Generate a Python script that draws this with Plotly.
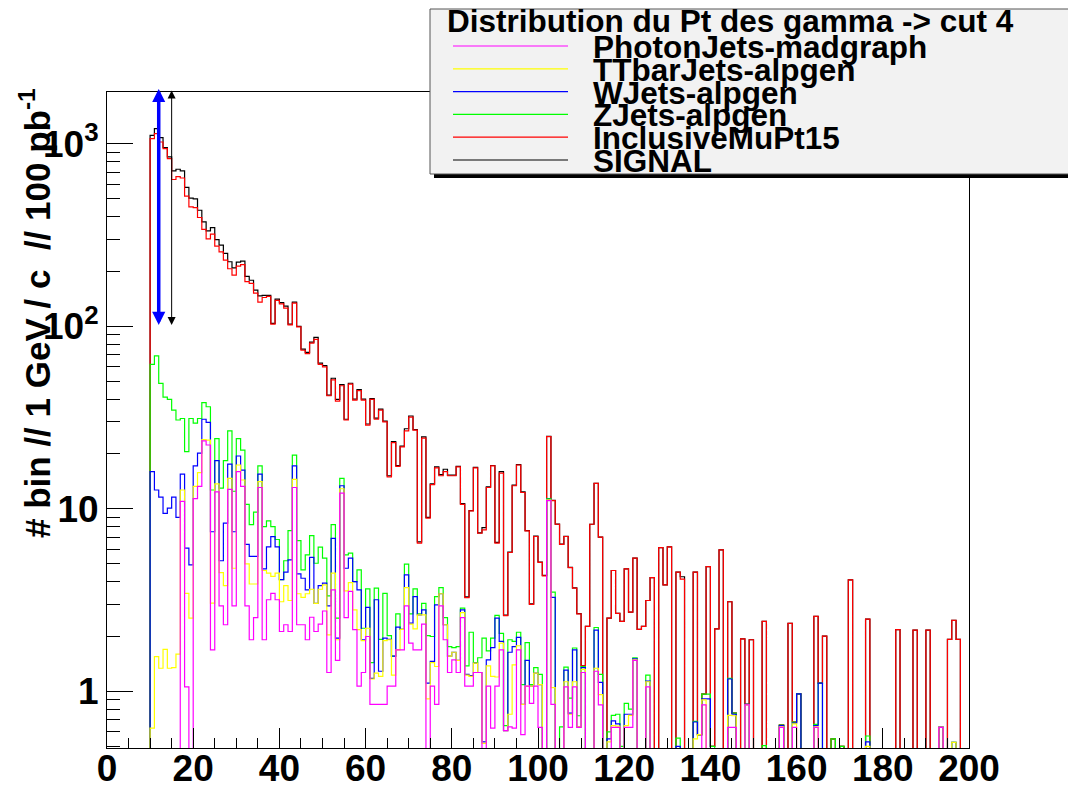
import numpy as np
import plotly.graph_objects as go

# Pt of the photon candidate, 1 GeV bins from 10 to 200 GeV/c.
bin_edges = list(range(10, 201))

# Stacked histogram levels (each sample is drawn on top of the ones below it),
# events per bin normalised to 100 pb^-1. One row = 10 bins.
signal = [
    1114, 1213, 1082, 955, 848, 711, 726, 711, 577, 504,
    500, 433, 374, 334, 348, 299, 279, 251, 226, 209,
    225, 228, 188, 179, 158, 147, 148, 148, 104, 141,
    135, 129, 103, 136, 100, 75, 72, 82, 87, 63,
    61, 42, 52, 39.8, 48, 31, 48.8, 40, 45, 40,
    29.2, 40.2, 31.4, 35.2, 30.3, 15.2, 23.4, 17.3, 22.1, 27.5,
    32.3, 27.2, 6.6, 24.8, 9.0, 13.7, 17.0, 15.4, 16.5, 15.3,
    15.3, 17.1, 10.7, 3.3, 9.8, 16.9, 7.4, 7.9, 13.2, 17.3,
    6.55, 16.0, 2.62, 5.8, 13.5, 17.5, 12.4, 7.6, 3.02, 7.1,
    5.12, 4.32, 25.0, 11.15, 8.26, 6.42, 7.08, 4.78, 3.69, 2.67,
    1.38, 2.27, 8.24, 13.8, 7.0, 0, 2.52, 4.6, 2.68, 2.42,
    4.7, 2.72, 5.37, 2.19, 2.27, 3.15, 4.2, 0, 6.14, 3.84,
    6.2, 0, 4.5, 4.25, 0, 0, 4.5, 0.58, 0.967, 4.83,
    0.5, 2.2, 5.97, 0, 3.1, 0.76, 0, 1.94, 0.85, 1.92,
    0, 0, 2.42, 0, 0, 0, 0.655, 0, 2.36, 0.68,
    0.97, 0, 0, 0, 2.58, 1.11, 2.01, 0, 0.55, 0,
    0.5, 0, 4.09, 0, 0, 0, 2.49, 0, 0, 0,
    0, 0, 0, 2.18, 0, 0, 0, 2.17, 0, 0,
    2.17, 0, 0, 0.635, 0, 1.93, 2.45, 1.93, 0, 0,
]

inclusive_mu = [
    1069, 1138, 1024, 943, 831, 638, 662, 650, 517, 452,
    448, 395, 340, 302, 320, 275, 256, 231, 207, 191,
    214, 218, 176, 172, 152, 136, 144, 146, 103, 139,
    133, 126, 102, 134, 99.5, 74, 71, 81, 85, 62,
    60, 41.7, 51, 39, 47.3, 30.7, 48.3, 39.5, 44.5, 39.5,
    28.8, 39.8, 31, 34.8, 30, 15.0, 23.1, 17.1, 21.9, 26.8,
    31.8, 27, 6.5, 24.4, 8.9, 13.6, 16.8, 15.2, 16.0, 15.2,
    15.2, 17.0, 10.6, 3.27, 9.75, 16.8, 7.36, 7.67, 13.1, 17.2,
    6.5, 15.7, 2.6, 5.77, 13.4, 17.4, 12.3, 7.58, 3.0, 7.06,
    5.1, 4.3, 24.9, 11.1, 8.24, 6.4, 7.06, 4.77, 3.68, 2.66,
    1.38, 2.27, 8.24, 13.8, 7.0, 0, 2.52, 4.6, 2.68, 2.42,
    4.7, 2.72, 5.37, 2.19, 2.27, 3.15, 4.2, 0, 6.14, 3.84,
    6.2, 0, 4.5, 4.12, 0, 0, 4.5, 0.58, 0.967, 4.83,
    0.5, 2.2, 5.97, 0, 3.1, 0.76, 0, 1.94, 0.85, 1.92,
    0, 0, 2.42, 0, 0, 0, 0.655, 0, 2.36, 0.68,
    0.97, 0, 0, 0, 2.58, 1.11, 2.01, 0, 0.55, 0,
    0.5, 0, 4.09, 0, 0, 0, 2.49, 0, 0, 0,
    0, 0, 0, 2.18, 0, 0, 0, 2.17, 0, 0,
    2.17, 0, 0, 0.635, 0, 1.93, 2.45, 1.93, 0, 0,
]

zjets = [
    62, 69, 48.7, 41, 39.8, 34.8, 30.7, 31.3, 20.6, 31.3,
    29.5, 31.3, 38.2, 36.3, 12.7, 24.3, 13, 18.4, 26.8, 12.5,
    24.3, 21, 10.6, 8.2, 9.6, 17.2, 8.0, 8.6, 8.0, 6.8,
    4.1, 5.2, 7.6, 19.7, 6.7, 4.63, 5.6, 7.14, 5.04, 6.17,
    5.37, 3.34, 8.2, 2.52, 14.7, 5.6, 5.72, 4.0, 4.63, 2.22,
    3.65, 1.44, 3.68, 1.93, 3.45, 2.02, 1.56, 2.66, 2.19, 4.98,
    2.66, 3.65, 2.66, 3.04, 2.02, 2.0, 3.31, 3.71, 2.54, 1.76,
    1.74, 1.76, 2.86, 1.38, 2.11, 1.44, 1.53, 1.96, 1.67, 1.96,
    2.61, 2.08, 0.65, 1.92, 1.88, 2.11, 1.09, 1.85, 1.09, 1.35,
    1.24, 0, 11.4, 3.5, 0, 0.64, 1.36, 0.92, 1.73, 0.736,
    1.37, 0, 0, 2.24, 1.24, 0, 0.6, 0.74, 0.75, 0.5,
    0.86, 0.8, 1.53, 0, 0, 1.23, 0, 0, 0, 0,
    0, 0, 0.555, 0, 0, 0, 0.685, 0.58, 0.967, 0.967,
    0.5, 0, 0, 0, 1.18, 0.76, 0, 0, 0.85, 0,
    0, 0, 0.505, 0, 0, 0, 0.655, 0, 0, 0.68,
    0.97, 0, 0, 0, 0.66, 1.11, 0, 0, 0.55, 0,
    0.5, 0, 0, 0, 0, 0, 0.57, 0, 0, 0,
    0, 0, 0, 0, 0, 0, 0, 0, 0, 0,
    0, 0, 0, 0.635, 0, 0, 0.526, 0, 0, 0,
]

wjets = [
    16.0, 12.7, 11.6, 9.46, 10.1, 11.6, 9.0, 15.5, 6.1, 4.94,
    17.2, 20.2, 31, 29.8, 7.5, 18.4, 5.2, 8.35, 17.6, 7.5,
    19.5, 16.3, 6.4, 5.5, 5.5, 15.5, 4.7, 6.2, 7.05, 6.2,
    4.1, 4.5, 5.26, 17.2, 4.41, 4.17, 3.6, 5.43, 3.04, 3.8,
    3.92, 2.94, 6.9, 1.96, 13.4, 4.73, 5.37, 4.0, 3.6, 1.92,
    2.89, 1.18, 3.18, 1.29, 1.96, 1.93, 1.56, 2.25, 2.19, 4.35,
    2.37, 3.31, 2.63, 2.8, 1.11, 1.46, 2.98, 3.43, 2.32, 1.56,
    1.64, 1.48, 2.8, 1.24, 1.22, 1.43, 1.27, 0.53, 1.49, 1.74,
    2.52, 1.88, 0.61, 1.64, 1.76, 1.98, 0.85, 1.48, 1.07, 1.26,
    1.09, 0, 11.3, 3.28, 0, 0, 1.31, 0.76, 1.69, 0.64,
    1.35, 0, 0, 2.17, 1.12, 0, 0.55, 0.69, 0.665, 0,
    0.75, 0.75, 1.51, 0, 0, 1.14, 0, 0, 0, 0,
    0, 0, 0.5, 0, 0, 0, 0.68, 0.58, 0.91, 0.91,
    0, 0, 0, 0, 1.17, 0.75, 0, 0, 0.85, 0,
    0, 0, 0, 0, 0, 0, 0.65, 0, 0, 0.67,
    0.97, 0, 0, 0, 0.65, 1.11, 0, 0, 0, 0,
    0, 0, 0, 0, 0, 0, 0.53, 0, 0, 0,
    0, 0, 0, 0, 0, 0, 0, 0, 0, 0,
    0, 0, 0, 0.635, 0, 0, 0.526, 0, 0, 0,
]

ttbar = [
    0.63, 1.55, 1.34, 1.7, 1.34, 1.35, 1.6, 12.7, 3.45, 2.52,
    13.3, 15.8, 24.0, 23.8, 3.05, 13.7, 4.48, 3.8, 14.7, 4.73,
    17.4, 14.4, 5.0, 3.88, 3.88, 14.1, 4.6, 4.45, 4.27, 4.45,
    3.1, 3.8, 3.15, 14.5, 3.43, 3.28, 3.43, 3.63, 3.04, 3.63,
    3.84, 2.04, 4.45, 1.92, 12.9, 3.56, 3.95, 2.8, 2.18, 1.9,
    2.22, 1.17, 1.26, 1.21, 1.9, 1.92, 1.23, 1.69, 2.19, 3.71,
    2.34, 2.2, 2.63, 2.63, 0.91, 1.44, 1.37, 3.43, 2.32, 1.56,
    1.64, 1.48, 2.7, 1.23, 1.21, 1.43, 1.27, 0.52, 1.38, 1.21,
    1.2, 1.84, 0.61, 0.75, 1.4, 1.78, 0.85, 1.07, 1.07, 1.26,
    1.09, 0, 11.2, 1.05, 0, 0, 1.13, 0.75, 1.13, 0.64,
    1.32, 0, 0, 1.34, 0.96, 0, 0.53, 0.65, 0.645, 0,
    0.65, 0.74, 1.49, 0, 0, 1.13, 0, 0, 0, 0,
    0, 0, 0, 0, 0, 0, 0.55, 0.58, 0.9, 0,
    0, 0, 0, 0, 0.74, 0.736, 0, 0, 0.845, 0,
    0, 0, 0, 0, 0, 0, 0.64, 0, 0, 0.665,
    0, 0, 0, 0, 0.64, 0, 0, 0, 0, 0,
    0, 0, 0, 0, 0, 0, 0.5, 0, 0, 0,
    0, 0, 0, 0, 0, 0, 0, 0, 0, 0,
    0, 0, 0, 0.635, 0, 0, 0.526, 0, 0, 0,
]

photonjets = [
    0, 0, 0, 0, 0, 0, 0, 11.0, 1.06, 0,
    11.4, 13.3, 23.6, 22.4, 1.69, 12.4, 2.94, 2.32, 12.8, 2.94,
    16.0, 13.3, 2.94, 1.92, 2.54, 13.1, 1.92, 3.18, 3.45, 3.18,
    2.13, 2.32, 2.13, 13.1, 2.32, 2.32, 1.92, 2.55, 2.13, 2.34,
    2.76, 1.27, 3.6, 1.48, 12.2, 2.54, 3.53, 2.18, 1.07, 1.27,
    2.0, 0.85, 0.85, 0.85, 0.85, 1.07, 1.07, 1.69, 1.69, 2.94,
    1.84, 1.69, 1.69, 2.34, 0, 1.07, 0.85, 2.94, 1.92, 1.27,
    1.49, 1.27, 2.54, 1.07, 1.07, 1.27, 1.27, 0, 1.07, 0.63,
    1.07, 1.69, 0.61, 0.64, 0.63, 1.69, 0.58, 1.07, 0.86, 1.07,
    0.635, 0, 11.1, 0.85, 0, 0, 1.06, 0.635, 1.06, 0.635,
    1.27, 0, 0, 1.29, 0.845, 0, 0, 0.635, 0.635, 0,
    0.635, 0.635, 1.48, 0, 0, 1.06, 0, 0, 0, 0,
    0, 0, 0, 0, 0, 0, 0, 0, 0.845, 0,
    0, 0, 0, 0, 0.635, 0.635, 0, 0, 0.845, 0,
    0, 0, 0, 0, 0, 0, 0.635, 0, 0, 0.635,
    0, 0, 0, 0, 0.635, 0, 0, 0, 0, 0,
    0, 0, 0, 0, 0, 0, 0, 0, 0, 0,
    0, 0, 0, 0, 0, 0, 0, 0, 0, 0,
    0, 0, 0, 0.635, 0, 0, 0, 0, 0, 0,
]

samples = [
    ("SIGNAL", signal, "#000000"),
    ("InclusiveMuPt15", inclusive_mu, "#ff0000"),
    ("ZJets-alpgen", zjets, "#00ff00"),
    ("WJets-alpgen", wjets, "#0000ff"),
    ("TTbarJets-alpgen", ttbar, "#ffff00"),
    ("PhotonJets-madgraph", photonjets, "#ff00ff"),
]

# Cut positions marked with vertical arrows
cut_arrows = [
    dict(x=12, y_low=100, y_high=2000, color="#0000ff", width=3.5, size=0.75),
    dict(x=15, y_low=100, y_high=1960, color="#000000", width=1, size=1.6),
]

FONT = "Liberation Sans, Arial, Helvetica, sans-serif"
W, H = 1068, 787
L, R, T, B = 107, 969, 92, 748   # plot frame in pixels


def px(xp):
    return (xp - L) / (R - L)


def py(yp):
    return (B - yp) / (B - T)


FLOOR = 0.05  # empty bins drop below the visible log range

fig = go.Figure()
for name, vals, color in samples:
    v = np.asarray(vals, dtype=float)
    v = np.where(v > 0, v, FLOOR)
    xs = [bin_edges[0]] + bin_edges
    ys = [FLOOR] + list(v) + [v[-1]]
    fig.add_trace(go.Scatter(
        x=xs, y=ys, mode="lines", name=name,
        line=dict(color=color, width=1.2, shape="hv"),
        showlegend=False, hoverinfo="skip",
    ))

tick_font = dict(family=FONT, size=37, color="black", weight="bold")

minor_y = [m * 10 ** e for e in range(-1, 4) for m in range(2, 10)]
minor_y = [v for v in minor_y if 0.49 <= v <= 1924]

fig.update_xaxes(
    range=[0, 200], tickmode="array", tickvals=list(range(0, 201, 20)),
    ticks="inside", ticklen=20, tickwidth=1, tickcolor="black",
    minor=dict(ticks="inside", ticklen=10, tickwidth=1, tickcolor="black", dtick=5, showgrid=False),
    showline=True, linecolor="black", linewidth=1, mirror=True,
    showgrid=False, zeroline=False, tickfont=tick_font, automargin=False,
    ticklabelstandoff=-12,
)
fig.update_yaxes(
    type="log", range=[np.log10(0.49), np.log10(1924)],
    tickmode="array", tickvals=[1, 10, 100, 1000],
    ticktext=["1", "10", "10<sup>2</sup>", "10<sup>3</sup>"],
    ticks="inside", ticklen=26, tickwidth=1, tickcolor="black",
    minor=dict(ticks="inside", ticklen=13, tickwidth=1, tickcolor="black",
               tickmode="array", tickvals=minor_y, showgrid=False),
    showline=True, linecolor="black", linewidth=1, mirror=True,
    showgrid=False, zeroline=False, tickfont=tick_font, automargin=False,
)

annotations = []
for a in cut_arrows:
    annotations.append(dict(
        x=a["x"], y=np.log10(a["y_high"]), ax=a["x"], ay=np.log10(a["y_low"]),
        xref="x", yref="y", axref="x", ayref="y", text="",
        showarrow=True, arrowhead=2, startarrowhead=2, arrowside="end+start",
        arrowwidth=a["width"], arrowsize=a["size"], startarrowsize=a["size"],
        arrowcolor=a["color"],
    ))

# y-axis title
annotations.append(dict(
    x=px(35), y=py(86), xref="paper", yref="paper",
    text="# bin // 1 GeV / c  // 100 pb<sup>-1</sup>", textangle=-90,
    xanchor="center", yanchor="top", showarrow=False,
    font=dict(family=FONT, size=35, color="black", weight="bold"),
))

# legend box with drop shadow
shapes = [
    dict(type="rect", xref="paper", yref="paper", layer="above",
         x0=px(434), x1=px(1090), y0=py(178), y1=py(13),
         fillcolor="black", line=dict(width=0)),
    dict(type="rect", xref="paper", yref="paper", layer="above",
         x0=px(430), x1=px(1085), y0=py(174), y1=py(9),
         fillcolor="#f2f2f2", line=dict(color="#555555", width=1)),
]

annotations.append(dict(
    x=px(445), y=py(21), xref="paper", yref="paper", xanchor="left", yanchor="middle",
    text="Distribution du Pt des gamma -> cut 4", showarrow=False,
    font=dict(family=FONT, size=31.5, color="black", weight="bold"),
))

legend_order = ["PhotonJets-madgraph", "TTbarJets-alpgen", "WJets-alpgen",
                "ZJets-alpgen", "InclusiveMuPt15", "SIGNAL"]
colors = {n: c for n, _, c in samples}
for i, name in enumerate(legend_order):
    yl = 46 + 22.8 * i
    shapes.append(dict(type="line", xref="paper", yref="paper", layer="above",
                       x0=px(453), x1=px(568), y0=py(yl), y1=py(yl),
                       line=dict(color=colors[name], width=1.2)))
    annotations.append(dict(
        x=px(591), y=py(yl + 1), xref="paper", yref="paper",
        xanchor="left", yanchor="middle", text=name, showarrow=False,
        font=dict(family=FONT, size=31.5, color="black", weight="bold"),
    ))

fig.update_layout(
    width=W, height=H, autosize=False,
    margin=dict(l=L, r=W - R, t=T, b=H - B, autoexpand=False),
    paper_bgcolor="white", plot_bgcolor="white",
    shapes=shapes, annotations=annotations, showlegend=False,
)

fig.write_html("out.html")
